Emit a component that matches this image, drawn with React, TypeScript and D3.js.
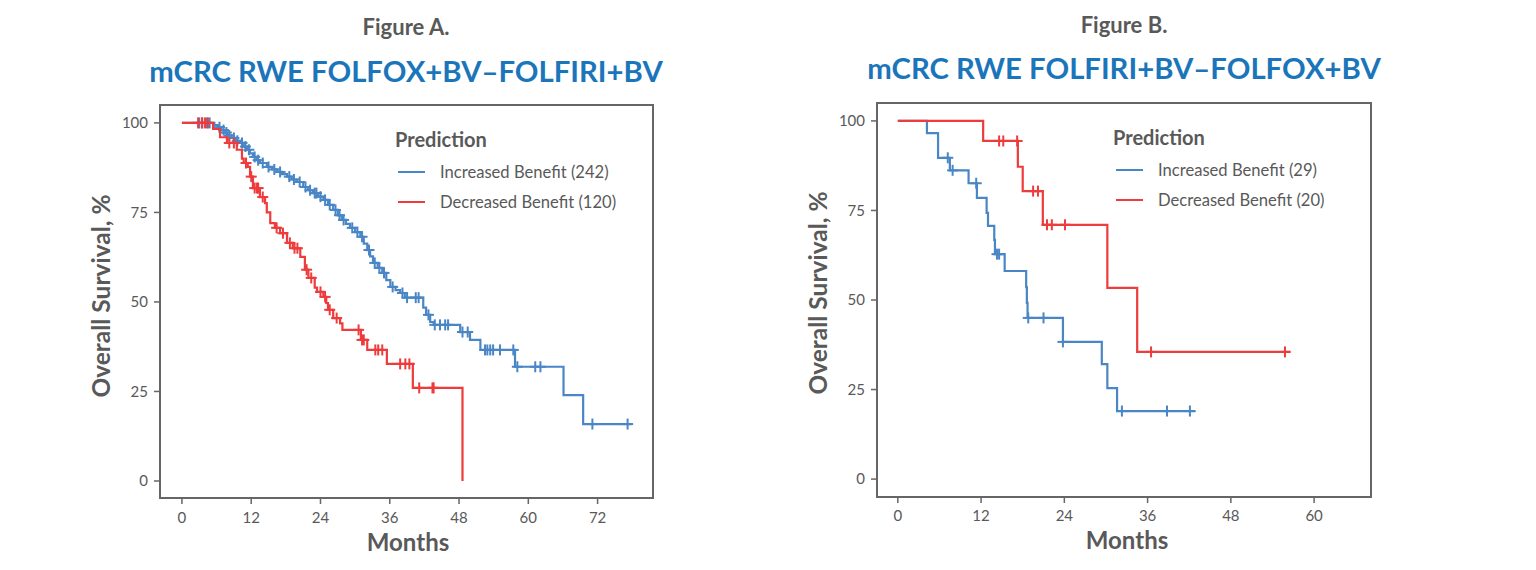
import React from "react";
import * as d3 from "d3";

// ---------- DATA ----------
const yTicks = [0, 25, 50, 75, 100];
const xTicksA = [0, 12, 24, 36, 48, 60, 72];
const xTicksB = [0, 12, 24, 36, 48, 60];

const figLabels = ["Figure A.", "Figure B."];
const figTitles = ["mCRC RWE FOLFOX+BV\u2013FOLFIRI+BV", "mCRC RWE FOLFIRI+BV\u2013FOLFOX+BV"];
const seriesNames = ["Increased Benefit", "Decreased Benefit"];
const countsA = [242, 120];
const countsB = [29, 20];

// Figure A, Increased Benefit: event times (months) and survival (%) after each step
const aBlueT = [5.6, 6.2, 6.8, 7.4, 8.0, 8.6, 9.3, 10.1, 10.7, 11.3, 11.8, 12.3, 12.9, 13.5, 14.7, 15.6, 16.5, 17.3, 18.2, 19.0, 19.9, 21.0, 21.8, 22.7, 23.6, 24.5, 25.3, 26.2, 27.0, 27.7, 28.4, 29.1, 30.0, 30.9, 31.5, 32.1, 32.6, 33.1, 33.9, 34.7, 35.4, 36.1, 37.0, 37.8, 38.6, 41.8, 42.3, 43.0, 43.6, 48.2, 49.9, 51.7, 57.7, 66.1, 69.5];
const aBlueS = [99.4, 98.8, 98.0, 97.3, 96.5, 95.8, 95.0, 94.4, 93.4, 92.5, 91.5, 90.5, 89.6, 88.8, 87.7, 87.0, 86.3, 85.7, 85.0, 84.2, 83.5, 82.1, 81.2, 80.4, 79.4, 78.5, 77.1, 75.7, 74.2, 72.9, 71.8, 70.7, 69.5, 68.2, 66.3, 64.5, 62.7, 60.9, 59.5, 58.1, 56.1, 54.2, 53.3, 52.5, 51.2, 48.4, 46.4, 44.4, 43.6, 41.6, 39.4, 36.6, 31.9, 24.0, 15.9];
const aBlueEnd = 77.9;
const aBlueCensor = [3.0, 3.5, 4.3, 4.8, 6.5, 7.2, 7.7, 8.2, 9.0, 9.6, 10.4, 11.0, 11.6, 12.6, 13.2, 14.0, 15.0, 16.0, 17.0, 18.6, 19.4, 20.4, 21.4, 22.2, 23.0, 23.3, 24.0, 24.8, 25.6, 26.6, 27.3, 28.0, 29.5, 30.4, 31.2, 32.4, 33.4, 34.2, 35.0, 36.5, 38.2, 39.0, 40.5, 41.0, 42.7, 43.8, 44.7, 45.6, 46.1, 48.6, 49.5, 52.5, 52.9, 53.4, 53.9, 55.1, 57.4, 58.1, 61.2, 62.1, 71.1, 77.2];

// Figure A, Decreased Benefit
const aRedT = [5.4, 6.6, 7.8, 9.5, 10.4, 10.7, 11.4, 11.8, 12.3, 13.5, 14.4, 14.7, 15.3, 16.1, 17.0, 18.2, 19.2, 20.5, 21.3, 21.9, 23.0, 23.4, 24.5, 25.0, 25.3, 26.2, 27.4, 27.8, 31.0, 32.1, 35.5, 40.0, 48.6];
const aRedS = [98.3, 96.0, 94.4, 92.5, 90.0, 88.8, 87.7, 85.0, 81.8, 79.3, 77.6, 75.0, 72.0, 70.7, 69.2, 66.5, 65.0, 62.6, 59.0, 56.7, 54.0, 52.8, 51.4, 49.7, 47.8, 45.5, 44.0, 42.2, 39.4, 36.6, 32.7, 26.0, 0];
const aRedEnd = 48.6;
const aRedCensor = [2.8, 3.5, 4.0, 4.5, 8.2, 9.0, 11.1, 12.0, 12.6, 13.0, 13.2, 14.0, 16.4, 17.5, 18.7, 19.5, 20.0, 21.6, 22.4, 24.0, 24.8, 25.6, 26.8, 30.6, 31.2, 31.5, 33.5, 34.0, 34.7, 37.8, 38.7, 39.4, 41.1, 43.4, 43.6];

// Figure B, Increased Benefit
const bBlueT = [4.2, 5.8, 7.5, 10.2, 11.4, 12.8, 13.0, 13.9, 14.0, 15.4, 18.5, 18.6, 18.7, 23.8, 29.4, 30.2, 31.6];
const bBlueS = [96.6, 89.7, 86.2, 82.6, 78.5, 74.3, 70.7, 66.8, 62.8, 58.1, 53.6, 49.2, 45.0, 38.3, 32.1, 25.4, 19.0];
const bBlueEnd = 42.9;
const bBlueCensor = [7.2, 7.9, 11.3, 14.3, 14.6, 18.8, 21.0, 23.8, 32.3, 38.8, 42.1];

// Figure B, Decreased Benefit
const bRedT = [12.3, 17.3, 18.0, 20.9, 30.2, 34.5];
const bRedS = [94.4, 87.2, 80.4, 71.0, 53.4, 35.5];
const bRedEnd = 56.6;
const bRedCensor = [14.6, 15.2, 17.2, 19.5, 20.2, 21.5, 22.2, 24.1, 36.5, 55.8];

// ---------- STYLE ----------
const BLUE = "#4a86c6";
const RED = "#ee3b3b";
const GRAY = "#595959";
const FRAME = "#666666";
const TITLE_BLUE = "#1b75bb";
const FONT = "Lato, 'Open Sans', sans-serif";

type Curve = { t: number[]; s: number[]; end: number; censor: number[]; color: string };

function survAt(c: Curve, time: number) {
  let v = 100;
  for (let i = 0; i < c.t.length; i++) {
    if (c.t[i] <= time) v = c.s[i];
  }
  return v;
}

type PanelProps = {
  x0: number; x1: number; y0: number; y1: number;
  xDomain: [number, number]; yDomain: [number, number];
  xTicks: number[];
  curves: Curve[];
  label: string; title: string; counts: number[];
  labelY: number; titleY: number; cx: number;
  yLabelX: number; yLabelY: number;
  monthsX: number; monthsY: number; xTickY: number;
  legX: number; legY: number;
};

function Panel(p: PanelProps) {
  const x = d3.scaleLinear().domain(p.xDomain).range([p.x0, p.x1]);
  const y = d3.scaleLinear().domain(p.yDomain).range([p.y1, p.y0]);
  const line = d3
    .line<[number, number]>()
    .x((d) => x(d[0]))
    .y((d) => y(d[1]))
    .curve(d3.curveStepAfter);

  return (
    <g>
      <text x={p.cx} y={p.labelY} textAnchor="middle" fontFamily={FONT} fontWeight={700} fontSize={22} fill={GRAY}>
        {p.label}
      </text>
      <text x={p.cx} y={p.titleY} textAnchor="middle" fontFamily={FONT} fontWeight={700} fontSize={29.3} fill={TITLE_BLUE}>
        {p.title}
      </text>

      {/* curves */}
      {p.curves.map((c, i) => {
        const pts: [number, number][] = [[0, 100]];
        c.t.forEach((t, k) => pts.push([t, c.s[k]]));
        const last = c.s.length ? c.s[c.s.length - 1] : 100;
        pts.push([c.end, last]);
        return (
          <g key={i}>
            <path d={line(pts) || ""} fill="none" stroke={c.color} strokeWidth={2.2} />
            {c.censor.map((ct, k) => {
              const cxp = x(ct);
              const cyp = y(survAt(c, ct));
              return (
                <g key={k} stroke={c.color} strokeWidth={2}>
                  <line x1={cxp} x2={cxp} y1={cyp - 5.5} y2={cyp + 5.5} />
                  <line x1={cxp - 5.5} x2={cxp + 5.5} y1={cyp} y2={cyp} />
                </g>
              );
            })}
          </g>
        );
      })}

      {/* frame */}
      <rect x={p.x0} y={p.y0} width={p.x1 - p.x0} height={p.y1 - p.y0} fill="none" stroke={FRAME} strokeWidth={2} />

      {/* y axis */}
      {yTicks.map((v) => (
        <g key={"y" + v}>
          <line x1={p.x0 - 6} x2={p.x0} y1={y(v)} y2={y(v)} stroke={FRAME} strokeWidth={1.5} />
          <text x={p.x0 - 12} y={y(v)} dy="0.35em" textAnchor="end" fontFamily={FONT} fontSize={15} fill={GRAY}>
            {v}
          </text>
        </g>
      ))}
      {/* x axis */}
      {p.xTicks.map((v) => (
        <g key={"x" + v}>
          <line x1={x(v)} x2={x(v)} y1={p.y1} y2={p.y1 + 6} stroke={FRAME} strokeWidth={1.5} />
          <text x={x(v)} y={p.xTickY} textAnchor="middle" fontFamily={FONT} fontSize={15} fill={GRAY}>
            {v}
          </text>
        </g>
      ))}
      <text x={p.monthsX} y={p.monthsY} textAnchor="middle" fontFamily={FONT} fontWeight={700} fontSize={24} fill={GRAY}>
        Months
      </text>
      <text
        transform={`translate(${p.yLabelX},${p.yLabelY}) rotate(-90)`}
        textAnchor="middle"
        dy="0.35em"
        fontFamily={FONT}
        fontWeight={700}
        fontSize={24.5}
        fill={GRAY}
      >
        Overall Survival, %
      </text>

      {/* legend */}
      <text x={p.legX} y={p.legY} fontFamily={FONT} fontWeight={700} fontSize={20} fill={GRAY}>
        Prediction
      </text>
      {p.curves.map((c, i) => (
        <g key={"l" + i}>
          <line x1={p.legX + 3} x2={p.legX + 30} y1={p.legY + 25 + i * 30} y2={p.legY + 25 + i * 30} stroke={c.color} strokeWidth={2} />
          <text x={p.legX + 45} y={p.legY + 25 + i * 30} dy="0.35em" fontFamily={FONT} fontSize={16.6} fill={GRAY}>
            {`${seriesNames[i]} (${p.counts[i]})`}
          </text>
        </g>
      ))}
    </g>
  );
}

export default function App() {
  const curvesA: Curve[] = [
    { t: aBlueT, s: aBlueS, end: aBlueEnd, censor: aBlueCensor, color: BLUE },
    { t: aRedT, s: aRedS, end: aRedEnd, censor: aRedCensor, color: RED },
  ];
  const curvesB: Curve[] = [
    { t: bBlueT, s: bBlueS, end: bBlueEnd, censor: bBlueCensor, color: BLUE },
    { t: bRedT, s: bRedS, end: bRedEnd, censor: bRedCensor, color: RED },
  ];
  return (
    <svg width={1536} height={570} style={{ position: "absolute", left: 0, top: 0, background: "#fff" }}>
      <rect x={0} y={0} width={1536} height={570} fill="#fff" />
      <Panel
        x0={160} x1={653} y0={105} y1={498}
        xDomain={[-3.8, 81.6]} yDomain={[-4.75, 105]}
        xTicks={xTicksA} curves={curvesA}
        label={figLabels[0]} title={figTitles[0]} counts={countsA}
        cx={406} labelY={35} titleY={82}
        yLabelX={101} yLabelY={296}
        monthsX={408} monthsY={551} xTickY={523}
        legX={395} legY={147}
      />
      <Panel
        x0={877} x1={1371} y0={103} y1={497}
        xDomain={[-3.0, 68.2]} yDomain={[-5, 105]}
        xTicks={xTicksB} curves={curvesB}
        label={figLabels[1]} title={figTitles[1]} counts={countsB}
        cx={1124} labelY={33} titleY={79}
        yLabelX={818} yLabelY={293}
        monthsX={1127} monthsY={549} xTickY={521}
        legX={1113} legY={145}
      />
    </svg>
  );
}
